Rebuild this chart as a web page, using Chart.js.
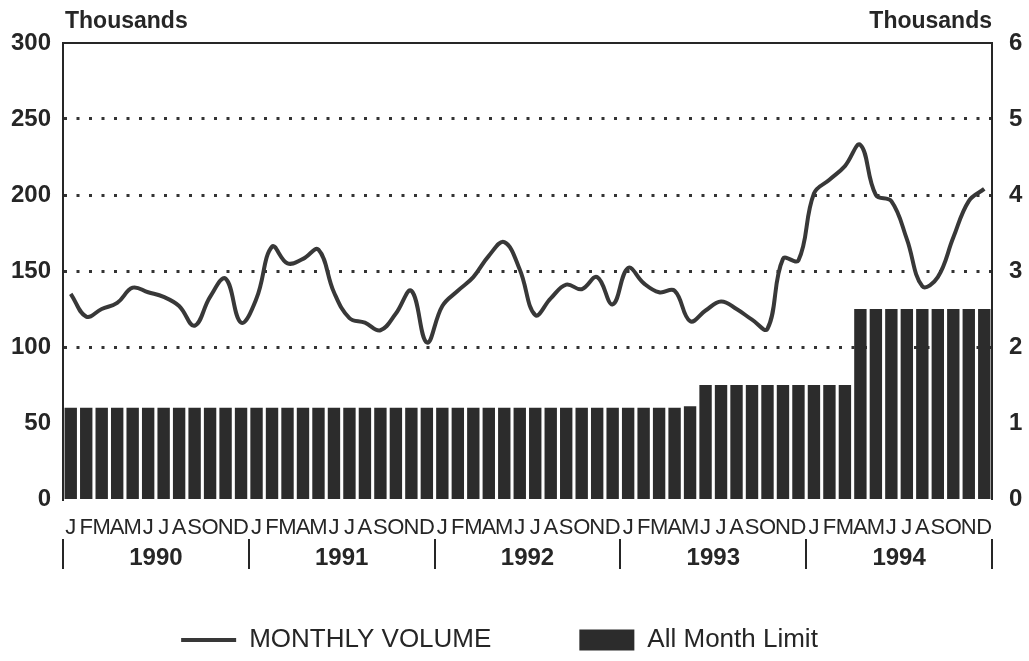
<!DOCTYPE html>
<html>
<head>
<meta charset="utf-8">
<script src="https://cdn.jsdelivr.net/npm/chart.js@4.4.1/dist/chart.umd.min.js"></script>
<style>
  html, body { margin: 0; padding: 0; background: #fff; }
  canvas { display: block; }
</style>
</head>
<body>
<canvas id="volumeChart" width="1029" height="661"></canvas>
<script>
const years = ['1990', '1991', '1992', '1993', '1994'];
const monthLetters = ['J', 'F', 'M', 'A', 'M', 'J', 'J', 'A', 'S', 'O', 'N', 'D'];

// monthly volume, thousands (left axis)
const monthlyVolume = [
    135, 120, 125, 129, 139, 136, 133, 127, 114, 133, 145, 116,
    132, 166, 155, 158, 164, 136, 119, 116, 111, 122, 137, 103,
    127, 137, 146, 160, 169, 151, 121, 132, 141, 138, 146, 128,
    152, 142, 136, 137, 117, 124, 130, 125, 118, 112, 158, 157,
    201, 210, 219, 233, 200, 196, 171, 140, 146, 172, 196, 204
];

// all month limit, thousands (right axis)
const allMonthLimit = [
    1.2, 1.2, 1.2, 1.2, 1.2, 1.2, 1.2, 1.2, 1.2, 1.2, 1.2, 1.2,
    1.2, 1.2, 1.2, 1.2, 1.2, 1.2, 1.2, 1.2, 1.2, 1.2, 1.2, 1.2,
    1.2, 1.2, 1.2, 1.2, 1.2, 1.2, 1.2, 1.2, 1.2, 1.2, 1.2, 1.2,
    1.2, 1.2, 1.2, 1.2, 1.22, 1.5, 1.5, 1.5, 1.5, 1.5, 1.5, 1.5,
    1.5, 1.5, 1.5, 2.5, 2.5, 2.5, 2.5, 2.5, 2.5, 2.5, 2.5, 2.5
];

const leftTicks = [0, 50, 100, 150, 200, 250, 300];
const rightTicks = [0, 1, 2, 3, 4, 5, 6];
const gridValues = [100, 150, 200, 250];

const ink = '#262626';
const FONT = "'Liberation Sans', Arial, sans-serif";

const labels = years.flatMap(() => monthLetters);

// frame on top + "Thousands" captions over both axes
const framePlugin = {
    id: 'frame',
    afterLayout(chart) {
        // pull the legend up under the year row and a bit to the left
        const lg = chart.legend;
        lg.top -= 36;
        lg.left -= 15;
        lg.right -= 15;
    },
    afterDraw(chart) {
        const { ctx, chartArea } = chart;
        ctx.save();
        ctx.strokeStyle = ink;
        ctx.lineWidth = 2;
        ctx.beginPath();
        ctx.moveTo(chartArea.left, chartArea.top);
        ctx.lineTo(chartArea.right, chartArea.top);
        ctx.stroke();

        ctx.fillStyle = ink;
        ctx.font = 'bold 23px ' + FONT;
        ctx.textBaseline = 'alphabetic';
        ctx.textAlign = 'left';
        ctx.fillText('Thousands', chartArea.left + 2, 28);
        ctx.textAlign = 'right';
        ctx.fillText('Thousands', chartArea.right, 28);
        ctx.restore();
    }
};

new Chart(document.getElementById('volumeChart'), {
    data: {
        labels: labels,
        datasets: [
            {
                type: 'line',
                label: 'MONTHLY VOLUME',
                data: monthlyVolume,
                yAxisID: 'y',
                borderColor: '#383838',
                backgroundColor: '#383838',
                borderWidth: 4,
                pointRadius: 0,
                pointStyle: 'line',
                tension: 0.4,
                order: 0
            },
            {
                type: 'bar',
                label: 'All Month Limit',
                data: allMonthLimit,
                yAxisID: 'y1',
                backgroundColor: '#2c2c2c',
                barPercentage: 0.8,
                categoryPercentage: 1,
                pointStyle: 'rect',
                order: 1
            }
        ]
    },
    options: {
        responsive: false,
        animation: false,
        devicePixelRatio: 1,
        layout: { padding: { top: 43, left: 0, right: 0, bottom: 0 } },
        plugins: {
            tooltip: { enabled: false },
            legend: {
                position: 'bottom',
                maxHeight: 86,
                labels: {
                    usePointStyle: true,
                    pointStyleWidth: 55,
                    boxHeight: 21,
                    padding: 88,
                    color: ink,
                    font: { family: FONT, size: 26 }
                }
            }
        },
        scales: {
            x: {
                type: 'category',
                offset: true,
                grid: { display: false },
                border: { display: false },
                ticks: {
                    autoSkip: false,
                    maxRotation: 0,
                    padding: 8,
                    color: ink,
                    font: { family: FONT, size: 22 }
                },
                afterFit: s => { s.height = 40; }
            },
            x2: {
                type: 'category',
                labels: years,
                position: 'bottom',
                offset: true,
                grid: {
                    offset: true,
                    drawOnChartArea: false,
                    drawTicks: true,
                    tickLength: 30,
                    lineWidth: 2,
                    color: ink
                },
                border: { display: false },
                ticks: {
                    padding: -25,
                    color: ink,
                    font: { family: FONT, size: 24, weight: 'bold' }
                },
                afterFit: s => { s.height = 36; }
            },
            y: {
                position: 'left',
                min: 0,
                max: 300,
                afterBuildTicks: s => { s.ticks = leftTicks.map(v => ({ value: v })); },
                grid: {
                    drawTicks: false,
                    lineWidth: 3,
                    color: c => gridValues.includes(c.tick.value) ? '#333' : 'rgba(0,0,0,0)'
                },
                border: { display: true, color: ink, width: 2, dash: [3, 9.5] },
                ticks: {
                    padding: 12,
                    color: ink,
                    font: { family: FONT, size: 24, weight: 'bold' }
                },
                afterFit: s => { s.width = 63; }
            },
            y1: {
                position: 'right',
                min: 0,
                max: 6,
                afterBuildTicks: s => { s.ticks = rightTicks.map(v => ({ value: v })); },
                grid: { display: false },
                border: { display: true, color: ink, width: 2 },
                ticks: {
                    padding: 9,
                    color: ink,
                    font: { family: FONT, size: 24, weight: 'bold' }
                },
                afterFit: s => { s.width = 37; }
            }
        }
    },
    plugins: [framePlugin]
});
</script>
</body>
</html>
